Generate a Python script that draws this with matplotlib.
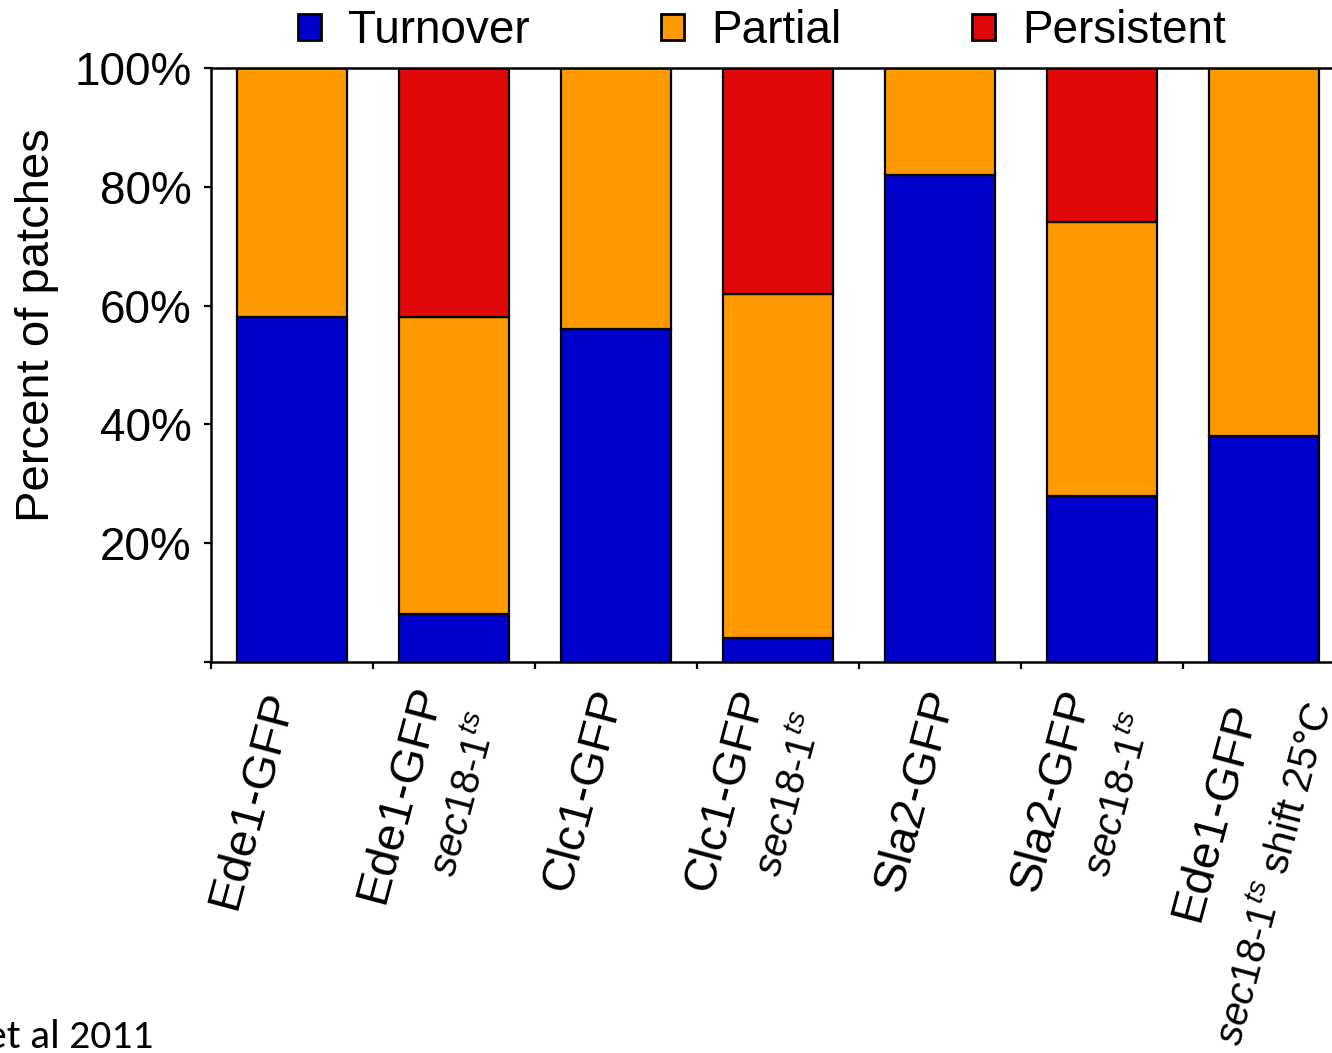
import matplotlib
matplotlib.use("Agg")
import matplotlib.pyplot as plt
from matplotlib.patches import Patch
import numpy as np

plt.rcParams['font.family'] = ['Liberation Sans', 'DejaVu Sans']
plt.rcParams['mathtext.fontset'] = 'custom'
plt.rcParams['mathtext.rm'] = 'Liberation Sans'
plt.rcParams['mathtext.it'] = 'Liberation Sans:italic'

# data (percent of patches)
strains = ['Ede1-GFP', 'Ede1-GFP', 'Clc1-GFP', 'Clc1-GFP', 'Sla2-GFP', 'Sla2-GFP', 'Ede1-GFP']
sublabels = ['', r'$\mathit{sec18}$-$\mathit{1}^{\mathit{ts}}$', '',
             r'$\mathit{sec18}$-$\mathit{1}^{\mathit{ts}}$', '',
             r'$\mathit{sec18}$-$\mathit{1}^{\mathit{ts}}$',
             r'$\mathit{sec18}$-$\mathit{1}^{\mathit{ts}}$ shift 25°C']
turnover = [58, 8, 56, 4, 82, 28, 38]
partial = [42, 50, 44, 58, 18, 46, 62]
persistent = [0, 42, 0, 38, 0, 26, 0]
series_names = ['Turnover', 'Partial', 'Persistent']
colors = ['#0000CC', '#FF9900', '#E00808']

# label offsets in pixels (line 1, line 2) relative to slot centre / axis bottom
off1 = [(-40, -138), (-54, -132), (-32, -128), (-52, -128), (-24, -128), (-50, -128), (-49, -150)]
off2 = [None, (12, -133), None, (13, -133), None, (18, -133), (12, -212)]

fig = plt.figure(figsize=(13.32, 10.53), dpi=100)
ax = fig.add_axes([211 / 1332, 391 / 1053, 1134 / 1332, 594 / 1053])

x = np.arange(len(strains))
w = 0.68
bottom = np.zeros(len(x))
for vals, c in zip([turnover, partial, persistent], colors):
    ax.bar(x, vals, w, bottom=bottom, color=c, edgecolor='black', linewidth=1.6, zorder=2)
    bottom += np.array(vals)

ax.set_xlim(-0.5, len(x) - 0.5)
ax.set_ylim(0, 100)
ax.set_yticks([0, 20, 40, 60, 80, 100])
ax.set_yticklabels(['', '20%', '40%', '60%', '80%', '100%'], fontsize=33)
ax.set_xticks(np.arange(len(x) + 1) - 0.5)
ax.set_xticklabels([])
ax.tick_params(axis='both', direction='out', length=5, width=1.6, pad=9)
for s in ['left', 'bottom', 'top']:
    ax.spines[s].set_linewidth(1.8)
ax.spines['right'].set_visible(False)

for i in range(len(x)):
    dx, dy = off1[i]
    ax.annotate(strains[i], xy=(i, 0), xycoords=('data', 'axes fraction'),
                xytext=(dx, dy), textcoords='offset pixels', rotation=75,
                rotation_mode='anchor', ha='center', va='center', fontsize=34)
    if off2[i] is not None:
        dx, dy = off2[i]
        ax.annotate(sublabels[i], xy=(i, 0), xycoords=('data', 'axes fraction'),
                    xytext=(dx, dy), textcoords='offset pixels', rotation=75,
                    rotation_mode='anchor', ha='center', va='center', fontsize=29)

fig.text(37 / 1332, 1 - 325 / 1053, 'Percent of patches', rotation=90,
         ha='center', va='center', fontsize=34)

handles = [Patch(facecolor=c, edgecolor='black', linewidth=2.0) for c in colors]
fig.legend(handles, series_names, loc='center', bbox_to_anchor=(762 / 1332, 1 - 31 / 1053),
           ncol=3, frameon=False, fontsize=33, handlelength=0.5, handleheight=0.5,
           handletextpad=0.6, columnspacing=2.85)

fig.text(153 / 1332, 5 / 1053, 'et al 2011', ha='right', va='baseline',
         fontsize=30, family=['Carlito', 'Lato', 'DejaVu Sans'])

fig.savefig('out.png', dpi=100)
